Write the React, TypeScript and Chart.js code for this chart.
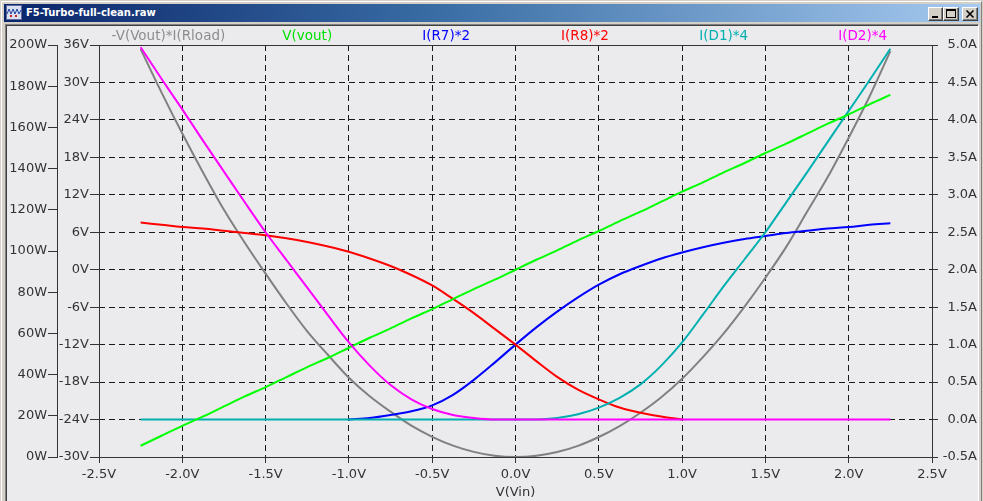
import React, { useEffect, useRef } from 'react';
import { Chart, registerables } from 'chart.js';

Chart.register(...registerables);

// ---- data ----
const vin = [
  -2.25, -2.125, -2.0, -1.875, -1.75, -1.625, -1.5, -1.375, -1.25, -1.125, -1.0, -0.875, -0.75,
  -0.625, -0.5, -0.375, -0.25, -0.125, 0, 0.125, 0.25, 0.375, 0.5, 0.625, 0.75, 0.875, 1.0,
  1.125, 1.25, 1.375, 1.5, 1.625, 1.75, 1.875, 2.0, 2.125, 2.25,
];
// -V(Vout)*I(Rload)  [W]
const pLoad = [
  198, 177, 157, 138, 120, 104, 89, 74.5, 61, 49.5, 38.5, 29.5, 22,
  15.2, 9.8, 5.5, 2.5, 0.6, 0, 0.6, 2.4, 5.4, 9.7, 15, 21.5, 29, 38,
  48.5, 60, 73, 87, 102, 119, 136, 155, 175, 197,
];
// V(vout)  [V]
const vOut = [
  -28.2, -26.6, -25.0, -23.5, -21.9, -20.3, -18.8, -17.2, -15.6, -14.1, -12.5, -10.9, -9.4,
  -7.8, -6.3, -4.7, -3.1, -1.6, 0, 1.6, 3.1, 4.7, 6.2, 7.8, 9.3, 10.9, 12.5,
  14.0, 15.6, 17.1, 18.7, 20.2, 21.8, 23.4, 24.9, 26.5, 28.0,
];
// I(R7)*2  [A]
const iR7 = [
  null, null, null, null, null, null, null, null, null, null, 0, 0.02, 0.06,
  0.11, 0.19, 0.33, 0.53, 0.76, 1.0, 1.23, 1.44, 1.63, 1.8, 1.94, 2.05, 2.15, 2.23,
  2.3, 2.36, 2.41, 2.45, 2.49, 2.52, 2.55, 2.57, 2.6, 2.62,
];
// I(R8)*2  [A]
const iR8 = [
  2.63, 2.6, 2.57, 2.55, 2.52, 2.49, 2.46, 2.42, 2.37, 2.31, 2.24, 2.15, 2.05,
  1.93, 1.79, 1.61, 1.42, 1.21, 1.0, 0.78, 0.57, 0.4, 0.27, 0.16, 0.09, 0.04, 0,
  null, null, null, null, null, null, null, null, null, null,
];
// I(D1)*4  [A]
const iD1 = [
  0, 0, 0, 0, 0, 0, 0, 0, 0, 0, 0, 0, 0,
  0, 0, 0, 0, 0, 0, 0, 0.02, 0.07, 0.16, 0.29, 0.47, 0.72, 1.03,
  1.4, 1.78, 2.14, 2.5, 2.9, 3.3, 3.71, 4.12, 4.53, 4.95,
];
// I(D2)*4  [A]
const iD2 = [
  4.97, 4.55, 4.14, 3.72, 3.31, 2.9, 2.5, 2.13, 1.76, 1.39, 1.03, 0.72, 0.46,
  0.27, 0.14, 0.06, 0.02, 0, 0, 0, 0, 0, 0, 0, 0, 0, 0,
  0, 0, 0, 0, 0, 0, 0, 0, 0, 0,
];

const seriesNames = ['-V(Vout)*I(Rload)', 'V(vout)', 'I(R7)*2', 'I(R8)*2', 'I(D1)*4', 'I(D2)*4'];
const lineColors = ['#808080', '#00ff00', '#0000ff', '#ff0000', '#00b0b0', '#ff00ff'];
const textColors = ['#8c8c8c', '#00e000', '#0000ff', '#ff0000', '#00b0b0', '#ff00ff'];
const seriesAxes = ['yW', 'yV', 'yA', 'yA', 'yA', 'yA'];
const seriesOrder = [6, 2, 5, 4, 3, 1];
const xTitle = 'V(Vin)';
const windowTitle = 'F5-Turbo-full-clean.raw';

const FONT = '"DejaVu Sans", Verdana, sans-serif';
const AXIS_TEXT = '#333333';

const overlayPlugin = {
  id: 'ltOverlay',
  beforeDatasetsDraw(chart: any) {
    const { ctx, chartArea } = chart;
    const { left, right, top, bottom } = chartArea;
    ctx.save();
    ctx.strokeStyle = '#333333';
    ctx.lineWidth = 1;
    ctx.setLineDash([]);
    ctx.strokeRect(left + 0.5, top + 0.5, right - left, bottom - top);
    ctx.restore();
  },
  afterDraw(chart: any) {
    const { ctx, chartArea } = chart;
    const { left, right } = chartArea;
    const slot = (right - left) / seriesNames.length;
    ctx.save();
    ctx.font = '13.5px ' + FONT;
    ctx.textAlign = 'center';
    ctx.textBaseline = 'middle';
    seriesNames.forEach((name, i) => {
      ctx.fillStyle = textColors[i];
      ctx.fillText(name, left + slot * (i + 0.5), 36);
    });
    ctx.restore();
  },
};

function LTChart() {
  const ref = useRef<HTMLCanvasElement | null>(null);
  useEffect(() => {
    if (!ref.current) return;
    const series = [pLoad, vOut, iR7, iR8, iD1, iD2];
    const datasets = series.map((arr, i) => ({
      label: seriesNames[i],
      data: vin.map((x, k) => ({ x, y: arr[k] })),
      yAxisID: seriesAxes[i],
      borderColor: lineColors[i],
      backgroundColor: lineColors[i],
      borderWidth: 2,
      pointRadius: 0,
      fill: false,
      spanGaps: false,
      cubicInterpolationMode: 'monotone' as const,
      order: seriesOrder[i],
    }));
    const tickFont = { family: FONT, size: 13 };
    const chart = new Chart(ref.current, {
      type: 'line',
      data: { datasets },
      options: {
        animation: false,
        responsive: false,
        events: [],
        layout: { padding: { left: 8, right: 6, top: 45, bottom: 0 } },
        plugins: { legend: { display: false }, tooltip: { enabled: false }, title: { display: false } },
        scales: {
          x: {
            type: 'linear',
            min: -2.5,
            max: 2.5,
            ticks: {
              stepSize: 0.5,
              color: AXIS_TEXT,
              font: tickFont,
              padding: 4,
              maxRotation: 0,
              autoSkip: false,
              callback: (v: any) => Number(v).toFixed(1) + 'V',
            },
            grid: { color: '#1a1a1a', lineWidth: 1, tickLength: 6, tickColor: '#333333', drawTicks: true },
            border: { display: false, dash: [6, 4] },
            title: { display: true, text: xTitle, color: AXIS_TEXT, font: tickFont, padding: { top: 0, bottom: 1 } },
            afterFit: (s: any) => { s.height = 44; },
          },
          yV: {
            type: 'linear',
            position: 'left',
            weight: 0,
            min: -30,
            max: 36,
            ticks: { stepSize: 6, color: AXIS_TEXT, font: tickFont, padding: 1, callback: (v: any) => Math.round(Number(v)) + 'V' },
            grid: { color: '#1a1a1a', lineWidth: 1, tickLength: 9, tickColor: '#333333' },
            border: { display: false, dash: [6, 4] },
            afterFit: (s: any) => { s.width = 42; },
          },
          yW: {
            type: 'linear',
            position: 'left',
            weight: 1,
            min: 0,
            max: 200,
            ticks: { stepSize: 20, color: AXIS_TEXT, font: tickFont, padding: 1, callback: (v: any) => Math.round(Number(v)) + 'W' },
            grid: { drawOnChartArea: false, tickLength: 9, tickColor: '#333333', color: '#333333' },
            border: { display: true, color: '#333333', width: 1 },
            afterFit: (s: any) => { s.width = 49; },
          },
          yA: {
            type: 'linear',
            position: 'right',
            min: -0.5,
            max: 5,
            ticks: {
              stepSize: 0.5,
              color: AXIS_TEXT,
              font: tickFont,
              padding: 2,
              crossAlign: 'far',
              callback: (v: any) => Number(v).toFixed(1) + 'A',
            },
            grid: { drawOnChartArea: false, tickLength: 6, tickColor: '#333333', color: '#333333' },
            border: { display: false },
            afterFit: (s: any) => { s.width = 45; },
          },
        },
      } as any,
      plugins: [overlayPlugin],
    });
    return () => chart.destroy();
  }, []);
  return (
    <canvas
      ref={ref}
      width={983}
      height={501}
      style={{ position: 'absolute', left: 0, top: 0, width: 983, height: 501 }}
    />
  );
}

function WinButton({ left, width, kind }: { left: number; width: number; kind: string }) {
  return (
    <div
      style={{
        position: 'absolute',
        left,
        top: 7,
        width,
        height: 14,
        boxSizing: 'border-box',
        background: '#d4d0c8',
        borderTop: '1px solid #ffffff',
        borderLeft: '1px solid #ffffff',
        borderRight: '1px solid #404040',
        borderBottom: '1px solid #404040',
        boxShadow: 'inset -1px -1px 0 #808080',
      }}
    >
      <svg width={width - 2} height={12} style={{ position: 'absolute', left: 0, top: 0 }}>
        {kind === 'min' && <rect x={3} y={8} width={6} height={2} fill="#000" />}
        {kind === 'max' && (
          <g>
            <rect x={2.5} y={1.5} width={9} height={8} fill="none" stroke="#000" />
            <rect x={2} y={1} width={10} height={2} fill="#000" />
          </g>
        )}
        {kind === 'close' && (
          <g stroke="#000" strokeWidth={1.6}>
            <line x1={3.5} y1={2.5} x2={10.5} y2={9.5} />
            <line x1={10.5} y1={2.5} x2={3.5} y2={9.5} />
          </g>
        )}
      </svg>
    </div>
  );
}

export default function App() {
  return (
    <div
      style={{
        position: 'relative',
        width: 983,
        height: 501,
        overflow: 'hidden',
        background: '#d4d0c8',
        fontFamily: FONT,
      }}
    >
      <style>{'html,body{margin:0;padding:0;}'}</style>
      <div style={{ position: 'absolute', left: 1, top: 1, width: 981, height: 520, boxSizing: 'border-box', borderTop: '1px solid #ffffff', borderLeft: '1px solid #ffffff', borderRight: '1px solid #808080' }} />
      <div
        style={{
          position: 'absolute',
          left: 4,
          top: 4,
          width: 976,
          height: 18,
          background: 'linear-gradient(90deg, #0a246a 0%, #3a6ea5 45%, #a6caf0 100%)',
        }}
      >
        <svg width={16} height={16} style={{ position: 'absolute', left: 2, top: 1 }}>
          <rect x={0.5} y={0.5} width={15} height={14} fill="#d8dff0" stroke="#5a6a9a" />
          <polyline points="1,9 3,4 5,9 7,4 9,9 11,4 13,9 15,5" fill="none" stroke="#2040a0" strokeWidth={1} />
          <rect x={4} y={10} width={2} height={2} fill="#d02020" />
          <rect x={9} y={10} width={2} height={2} fill="#d02020" />
        </svg>
        <div
          style={{
            position: 'absolute',
            left: 22,
            top: 2,
            color: '#ffffff',
            fontWeight: 'bold',
            fontSize: 10,
            lineHeight: '14px',
            fontFamily: FONT,
            whiteSpace: 'nowrap',
          }}
        >
          {windowTitle}
        </div>
      </div>
      <WinButton left={928} width={15} kind="min" />
      <WinButton left={943} width={16} kind="max" />
      <WinButton left={962} width={16} kind="close" />
      <div
        style={{
          position: 'absolute',
          left: 5,
          top: 24,
          width: 974,
          height: 490,
          boxSizing: 'border-box',
          background: '#ebebee',
          borderTop: '1px solid #808080',
          borderLeft: '1px solid #808080',
          borderRight: '1px solid #ffffff',
          boxShadow: 'inset 1px 1px 0 #404040',
        }}
      />
      <LTChart />
    </div>
  );
}
